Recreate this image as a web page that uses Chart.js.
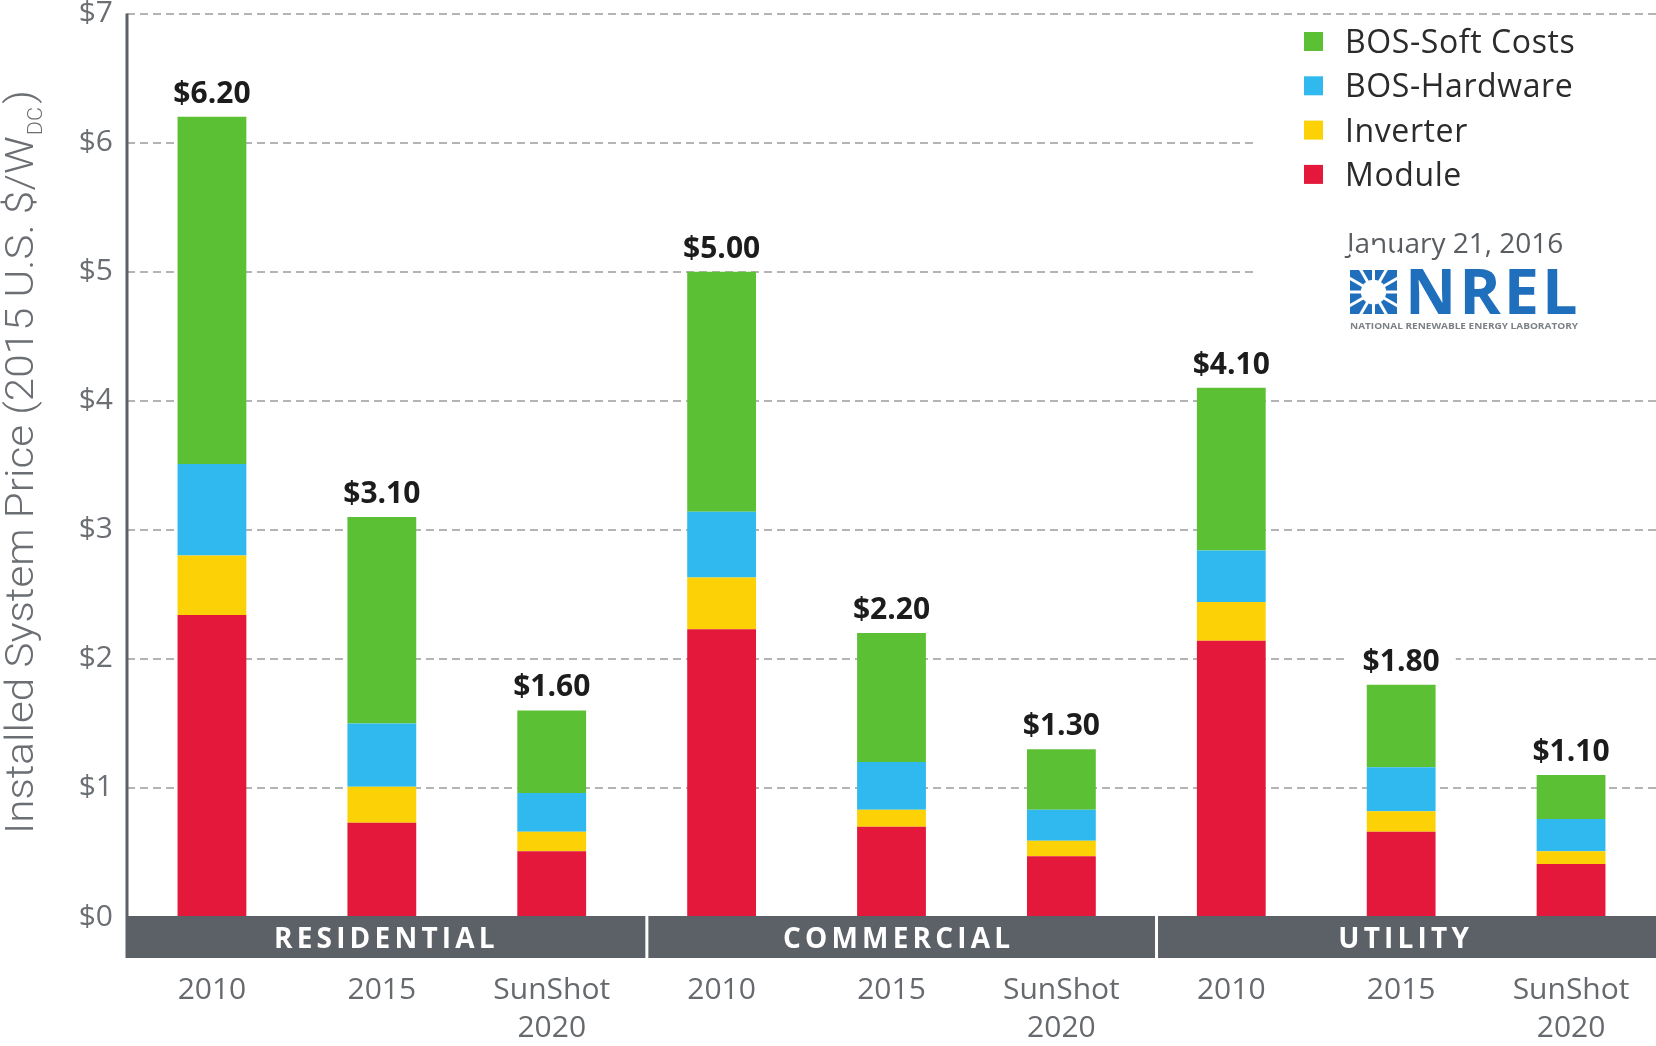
<!DOCTYPE html>
<html>
<head>
<meta charset="utf-8">
<script src="https://cdn.jsdelivr.net/npm/chart.js@4.4.1/dist/chart.umd.min.js"></script>
<style>
  html, body { margin: 0; padding: 0; background: #ffffff; }
  #wrap { width: 1656px; height: 1046px; position: relative; }
  canvas { display: block; }
</style>
</head>
<body>
<div id="wrap"><canvas id="chart" width="1656" height="1046"></canvas></div>
<script>
// Installed PV system price by market segment, 2015 U.S. $/W_DC
const categories = ['2010', '2015', ['SunShot', '2020'],
                    '2010', '2015', ['SunShot', '2020'],
                    '2010', '2015', ['SunShot', '2020']];
const groups = ['RESIDENTIAL', 'COMMERCIAL', 'UTILITY'];

const moduleCost   = [2.34, 0.73, 0.51, 2.23, 0.70, 0.47, 2.14, 0.66, 0.41];
const inverterCost = [0.46, 0.28, 0.15, 0.40, 0.13, 0.12, 0.30, 0.16, 0.10];
const hardwareCost = [0.71, 0.49, 0.30, 0.51, 0.37, 0.24, 0.40, 0.34, 0.25];
const softCost     = [2.69, 1.60, 0.64, 1.86, 1.00, 0.47, 1.26, 0.64, 0.34];

const yTickValues = [0, 1, 2, 3, 4, 5, 6, 7];
const dateLine = 'January 21, 2016';

const COLORS = {
  module: '#e3183a',
  inverter: '#fcd206',
  hardware: '#2fb9ee',
  soft: '#5cc035',
  band: '#5b6167',
  grid: '#b4b4b4',
  tick: '#6b6f73',
  label: '#1c1c1c',
  nrel: '#1f6fbd'
};

const FONT = '"Open Sans", "DejaVu Sans", sans-serif';

function stackTotal(i) {
  return moduleCost[i] + inverterCost[i] + hardwareCost[i] + softCost[i];
}

function labelFor(i) {
  return '$' + stackTotal(i).toFixed(2);
}

// Paints white behind the legend block and value labels so the dashed grid breaks there
const gridBreaks = {
  id: 'gridBreaks',
  beforeDatasetsDraw(chart) {
    const ctx = chart.ctx;
    const x = chart.scales.x, y = chart.scales.y;
    ctx.save();
    ctx.fillStyle = '#ffffff';
    ctx.fillRect(1257, 25, 1656 - 1257, 315);
    ctx.font = 'bold 30px ' + FONT;
    categories.forEach((c, i) => {
      const cx = x.getPixelForValue(i);
      const base = y.getPixelForValue(stackTotal(i)) - 14;
      const w = ctx.measureText(labelFor(i)).width;
      ctx.fillRect(cx - w / 2 - 16, base - 28, w + 32, 34);
    });
    ctx.restore();
  }
};

function drawNrelMark(ctx, x0, y0, w, h) {
  const cx = x0 + w / 2, cy = y0 + h / 2;
  ctx.save();
  ctx.fillStyle = COLORS.nrel;
  ctx.fillRect(x0, y0, w, h);
  ctx.fillStyle = '#ffffff';
  ctx.beginPath();
  ctx.ellipse(cx, cy, w * 0.27, h * 0.28, 0, 0, Math.PI * 2);
  ctx.fill();
  ctx.strokeStyle = '#ffffff';
  ctx.lineWidth = 3;
  for (let k = 0; k < 6; k++) {
    const a = k * Math.PI / 6;
    const r = Math.max(w, h);
    ctx.beginPath();
    ctx.moveTo(cx - Math.cos(a) * r, cy - Math.sin(a) * r);
    ctx.lineTo(cx + Math.cos(a) * r, cy + Math.sin(a) * r);
    ctx.stroke();
  }
  ctx.restore();
  ctx.save();
  ctx.strokeStyle = '#ffffff';
  ctx.lineWidth = 2;
  ctx.strokeRect(x0 - 1, y0 - 1, w + 2, h + 2);
  ctx.restore();
}

// Category band, group names, axis line, totals, legend, date, logo and y title
const annotations = {
  id: 'annotations',
  afterDatasetsDraw(chart) {
    const ctx = chart.ctx;
    const x = chart.scales.x, y = chart.scales.y;
    const area = chart.chartArea;
    const zeroY = y.getPixelForValue(0);

    // category band
    ctx.save();
    ctx.fillStyle = COLORS.band;
    ctx.fillRect(area.left, zeroY - 1, chart.width - area.left, 42);
    // white separators between groups
    ctx.fillStyle = '#ffffff';
    const sepX = [];
    for (let g = 1; g < groups.length; g++) {
      const px = x.getPixelForValue(g * 3 - 0.44);
      sepX.push(px);
      ctx.fillRect(px - 1.5, zeroY - 1, 3, 42);
    }
    const edges = [area.left].concat(sepX, [chart.width]);
    // group names
    ctx.font = 'bold 28px ' + FONT;
    ctx.letterSpacing = '4.2px';
    ctx.textAlign = 'center';
    ctx.textBaseline = 'alphabetic';
    groups.forEach((name, g) => {
      const mid = x.getPixelForValue(g * 3 + 1);
      const bandMid = (edges[g] + edges[g + 1]) / 2;
      ctx.fillText(name, (mid + bandMid) / 2 + 2, zeroY + 31);
    });
    ctx.letterSpacing = '0px';
    ctx.restore();

    // vertical axis line
    ctx.save();
    ctx.strokeStyle = COLORS.band;
    ctx.lineWidth = 3;
    ctx.beginPath();
    ctx.moveTo(area.left, area.top);
    ctx.lineTo(area.left, zeroY + 41);
    ctx.stroke();
    ctx.restore();

    // stack totals
    ctx.save();
    ctx.font = 'bold 30px ' + FONT;
    ctx.fillStyle = COLORS.label;
    ctx.textAlign = 'center';
    ctx.textBaseline = 'alphabetic';
    categories.forEach((c, i) => {
      const cx = x.getPixelForValue(i);
      const top = y.getPixelForValue(stackTotal(i));
      ctx.fillText(labelFor(i), cx, top - 14);
    });
    ctx.restore();

    // legend (top segment first)
    ctx.save();
    const items = chart.data.datasets.slice().reverse();
    ctx.font = '32px ' + FONT;
    ctx.letterSpacing = '0.6px';
    ctx.textAlign = 'left';
    ctx.textBaseline = 'alphabetic';
    items.forEach((ds, k) => {
      const base = 53 + k * 44.3;
      ctx.fillStyle = ds.backgroundColor;
      ctx.fillRect(1304, base - 21, 19, 19);
      ctx.fillStyle = '#2b2b2b';
      ctx.fillText(ds.label, 1345, base);
    });
    ctx.letterSpacing = '0px';

    // date
    ctx.font = '28px ' + FONT;
    ctx.fillStyle = '#595d61';
    ctx.fillText(dateLine, 1347, 253);

    // NREL mark
    drawNrelMark(ctx, 1350, 270, 47, 44);
    ctx.font = 'bold 63px ' + FONT;
    ctx.letterSpacing = '3px';
    ctx.fillStyle = COLORS.nrel;
    ctx.fillText('NREL', 1405, 314);
    ctx.letterSpacing = '0px';
    const tag = 'NATIONAL RENEWABLE ENERGY LABORATORY';
    ctx.font = 'bold 8px ' + FONT;
    const tw = ctx.measureText(tag).width;
    ctx.save();
    ctx.translate(1350, 329);
    ctx.scale(228 / tw, 1);
    ctx.fillStyle = '#7d8186';
    ctx.fillText(tag, 0, 0);
    ctx.restore();
    ctx.restore();

    // y axis title with subscript
    ctx.save();
    const F = 39;
    const mainFont = '300 ' + F + 'px Roboto, ' + FONT;
    const subFont = '300 20px Roboto, ' + FONT;
    const a = 'Installed System Price (2015 U.S. $/W', b = 'DC', c = ')';
    ctx.font = mainFont;
    const wa = ctx.measureText(a).width, wc = ctx.measureText(c).width;
    ctx.font = subFont;
    const wb = ctx.measureText(b).width + 4;
    const W = wa + wb + wc;
    ctx.translate(33, 462);
    ctx.rotate(-Math.PI / 2);
    ctx.scale(744 / W, 1);
    ctx.fillStyle = COLORS.tick;
    ctx.textAlign = 'left';
    ctx.textBaseline = 'alphabetic';
    let px = -W / 2;
    ctx.font = mainFont;
    ctx.fillText(a, px, 0); px += wa;
    ctx.font = subFont;
    ctx.fillText(b, px + 1, 9); px += wb;
    ctx.font = mainFont;
    ctx.fillText(c, px, 0);
    ctx.restore();
  }
};

function build() {
  Chart.defaults.font.family = FONT;
  new Chart(document.getElementById('chart'), {
    type: 'bar',
    data: {
      labels: categories,
      datasets: [
        { label: 'Module', data: moduleCost, backgroundColor: COLORS.module },
        { label: 'Inverter', data: inverterCost, backgroundColor: COLORS.inverter },
        { label: 'BOS-Hardware', data: hardwareCost, backgroundColor: COLORS.hardware },
        { label: 'BOS-Soft Costs', data: softCost, backgroundColor: COLORS.soft }
      ]
    },
    options: {
      responsive: false,
      animation: false,
      devicePixelRatio: 1,
      layout: { padding: { top: 13.5, right: 0, bottom: 0, left: 0 } },
      datasets: { bar: { barPercentage: 0.405, categoryPercentage: 1.0, borderWidth: 0 } },
      plugins: { legend: { display: false }, tooltip: { enabled: false } },
      scales: {
        x: {
          stacked: true,
          grid: { display: false, drawTicks: false },
          border: { display: false },
          ticks: {
            color: '#66696d',
            font: { size: 30, lineHeight: 1.26 },
            padding: 55,
            maxRotation: 0,
            autoSkip: false
          },
          afterFit(scale) {
            scale.height = 129;
            scale.paddingLeft = 0;
            scale.paddingRight = 0;
          }
        },
        y: {
          stacked: true,
          min: 0,
          max: 7,
          afterBuildTicks(scale) { scale.ticks = yTickValues.map(v => ({ value: v })); },
          grid: { color: COLORS.grid, lineWidth: 2, drawTicks: false, borderDash: [8, 5] },
          border: { display: false, dash: [8, 5] },
          ticks: {
            color: COLORS.tick,
            font: { size: 30, lineHeight: 0.8 },
            padding: 14,
            callback: v => '$' + v
          },
          afterFit(scale) {
            scale.width = 127;
            scale.paddingTop = 0;
            scale.paddingBottom = 0;
          }
        }
      }
    },
    plugins: [gridBreaks, annotations]
  });
}

Promise.all([
  document.fonts.load('30px "Open Sans"'),
  document.fonts.load('bold 30px "Open Sans"'),
  document.fonts.load('300 39px Roboto')
]).catch(() => {}).then(build);
</script>
</body>
</html>
